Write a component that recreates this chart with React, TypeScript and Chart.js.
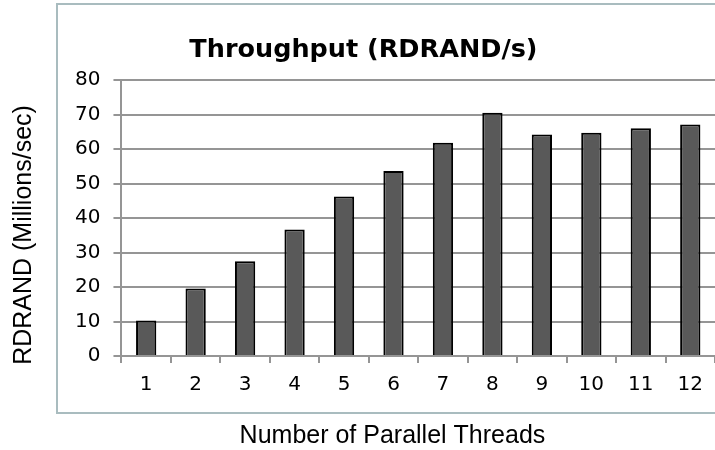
import React, { useEffect, useRef } from 'react';
import { Chart, registerables } from 'chart.js';

Chart.register(...registerables);

const threadCounts = ['1', '2', '3', '4', '5', '6', '7', '8', '9', '10', '11', '12'];
const throughputMillions = [10.3, 19.6, 27.5, 36.7, 46.2, 53.6, 61.8, 70.5, 64.2, 64.7, 66.0, 67.1];
const yMin = 0;
const yMax = 80;
const yStep = 10;

const chartTitle = 'Throughput (RDRAND/s)';
const xAxisTitle = 'Number of Parallel Threads';
const yAxisTitle = 'RDRAND (Millions/sec)';

const gridColor = '#959595';
const barFill = '#595959';
const barEdge = '#000000';
const frameColor = '#a9bcbf';

const textPlugin = {
  id: 'excelTexts',
  afterDraw(chart: any) {
    const { ctx, chartArea } = chart;
    ctx.save();
    ctx.fillStyle = '#000';
    ctx.textAlign = 'center';
    ctx.textBaseline = 'middle';
    ctx.font = 'bold 25.5px "DejaVu Sans"';
    ctx.fillText(chartTitle, chartArea.left + 242, chartArea.top - 30);
    ctx.font = '25px "Liberation Sans"';
    ctx.fillText(xAxisTitle, chartArea.left + 271, chartArea.bottom + 80);
    ctx.translate(24, (chartArea.top + chartArea.bottom) / 2 + 17);
    ctx.rotate(-Math.PI / 2);
    ctx.fillText(yAxisTitle, 0, 0);
    ctx.restore();
  },
};

export default function App() {
  const canvasRef = useRef<HTMLCanvasElement | null>(null);

  useEffect(() => {
    if (!canvasRef.current) return;
    const chart = new Chart(canvasRef.current, {
      type: 'bar',
      data: {
        labels: threadCounts,
        datasets: [
          {
            label: 'Throughput',
            data: throughputMillions,
            backgroundColor: barFill,
            borderColor: barEdge,
            borderWidth: 2,
            barPercentage: 0.41,
            categoryPercentage: 1,
          },
        ],
      },
      options: {
        animation: false,
        responsive: true,
        maintainAspectRatio: false,
        layout: { padding: { left: 62, top: 80, bottom: 43, right: 0 } },
        plugins: {
          legend: { display: false },
          tooltip: { enabled: false },
          title: { display: false },
        },
        scales: {
          x: {
            grid: {
              drawOnChartArea: false,
              drawTicks: true,
              tickLength: 7,
              color: gridColor,
              lineWidth: 2,
            },
            border: { display: true, color: gridColor, width: 2 },
            ticks: {
              color: '#000',
              font: { family: '"DejaVu Sans"', size: 20 },
              padding: 10,
              maxRotation: 0,
            },
          },
          y: {
            min: yMin,
            max: yMax,
            grid: {
              drawTicks: true,
              tickLength: 8,
              color: gridColor,
              lineWidth: 2,
            },
            border: { display: true, color: gridColor, width: 2 },
            ticks: {
              stepSize: yStep,
              color: '#000',
              font: { family: '"DejaVu Sans"', size: 20 },
              padding: 13,
            },
          },
        },
      },
      plugins: [textPlugin],
    });
    return () => chart.destroy();
  }, []);

  return (
    <div style={{ position: 'fixed', left: 0, top: 0, width: 715, height: 450, overflow: 'hidden', background: '#fff' }}>
      <div
        style={{
          position: 'absolute',
          left: 56,
          top: 3,
          width: 720,
          height: 411,
          border: `2px solid ${frameColor}`,
          boxSizing: 'border-box',
        }}
      />
      <div style={{ position: 'absolute', left: 0, top: 0, width: 715, height: 450 }}>
        <canvas ref={canvasRef} />
      </div>
    </div>
  );
}
